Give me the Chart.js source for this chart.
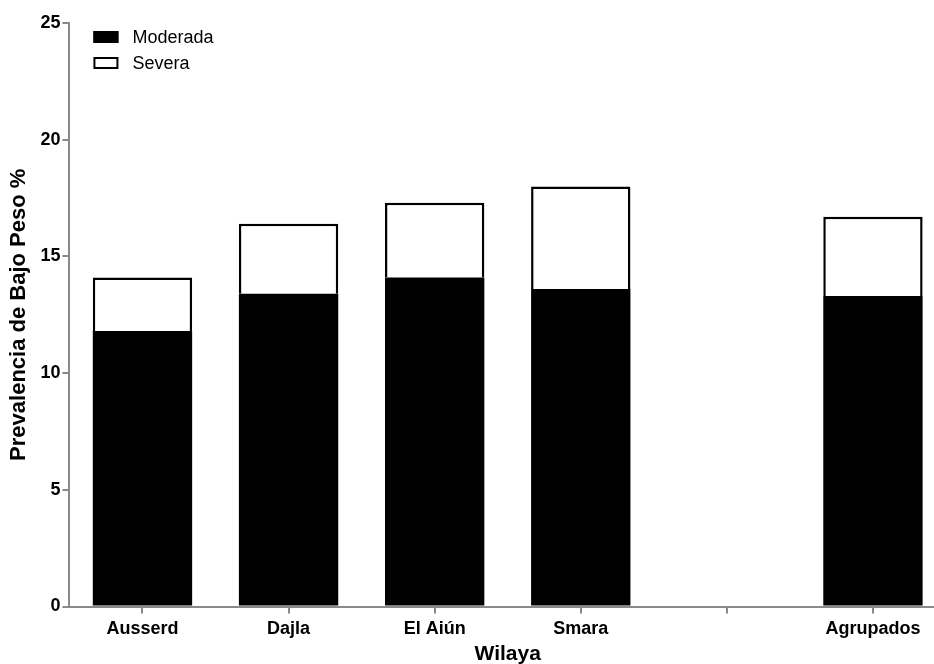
<!DOCTYPE html>
<html>
<head>
<meta charset="utf-8">
<script src="https://cdn.jsdelivr.net/npm/chart.js@4.4.0/dist/chart.umd.min.js"></script>
<style>
  html, body { margin: 0; padding: 0; background: #fff; overflow: hidden; }
  #wrap { width: 946px; height: 664px; }
</style>
</head>
<body>
<div id="wrap"><canvas id="my_chart"></canvas></div>
<script>
// wilayas (la categoria vacia deja el hueco antes de Agrupados)
var wilayas  = ['Ausserd', 'Dajla', 'El Aiún', 'Smara', '', 'Agrupados'];
// prevalencia en %
var moderada = [11.8, 13.4, 14.1, 13.6, null, 13.3];
var severa   = [2.3, 3.0, 3.2, 4.4, null, 3.4];
var y_ticks  = [0, 5, 10, 15, 20, 25];

var AXIS_GREY = '#8a8a8a';
var FONT = '"Liberation Sans", Arial, sans-serif';

// leyenda dentro del area del grafico, arriba a la izquierda
var inner_legend = {
  id: 'inner_legend',
  afterDraw: function(chart) {
    var ctx = chart.ctx;
    var x = chart.chartArea.left + 24;
    var y = chart.chartArea.top + 8;
    ctx.save();
    ctx.font = '18px ' + FONT;
    ctx.textBaseline = 'middle';
    chart.data.datasets.forEach(function(ds, i) {
      var yy = y + i * 26;
      ctx.fillStyle = ds.backgroundColor;
      ctx.fillRect(x, yy, 25, 12);
      ctx.lineWidth = 2;
      ctx.strokeStyle = '#000';
      ctx.strokeRect(x + 1, yy + 1, 23, 10);
      ctx.fillStyle = '#000';
      ctx.fillText(ds.label, x + 39, yy + 7);
    });
    ctx.restore();
  }
};

var config = {
  type: 'bar',
  data: {
    labels: wilayas,
    datasets: [
      {
        label: 'Moderada',
        data: moderada,
        backgroundColor: '#000000',
        borderColor: '#000000',
        borderWidth: 0
      }, {
        label: 'Severa',
        data: severa,
        backgroundColor: '#ffffff',
        borderColor: '#000000',
        borderWidth: 2.5
      }
    ]
  },
  options: {
    responsive: true,
    maintainAspectRatio: false,
    animation: false,
    layout: { padding: { top: 23, left: 6, right: 0, bottom: 0 } },
    plugins: {
      legend: { display: false },
      tooltip: { enabled: false }
    },
    datasets: {
      bar: { categoryPercentage: 1.0, barPercentage: 0.68 }
    },
    scales: {
      x: {
        stacked: true,
        grid: { display: true, offset: false, drawOnChartArea: false, color: AXIS_GREY, tickLength: 7, lineWidth: 2 },
        border: { color: AXIS_GREY, width: 2 },
        ticks: {
          color: '#000',
          font: { family: FONT, size: 18, weight: 'bold' },
          padding: 5,
          maxRotation: 0
        },
        title: {
          display: true,
          text: 'Wilaya',
          color: '#000',
          font: { family: FONT, size: 21, weight: 'bold', lineHeight: 0.9 },
          padding: { top: 0, bottom: 0 }
        }
      },
      y: {
        stacked: true,
        min: 0,
        max: 25,
        afterBuildTicks: function(axis) {
          axis.ticks = y_ticks.map(function(v) { return { value: v }; });
        },
        grid: { display: true, drawOnChartArea: false, color: AXIS_GREY, tickLength: 7, lineWidth: 2 },
        border: { color: AXIS_GREY, width: 2 },
        ticks: {
          color: '#000',
          font: { family: FONT, size: 18, weight: 'bold' },
          padding: 2
        },
        title: {
          display: true,
          text: 'Prevalencia de Bajo Peso %',
          color: '#000',
          font: { family: FONT, size: 22, weight: 'bold' },
          padding: { top: 0, bottom: 6 }
        }
      }
    }
  },
  plugins: [inner_legend]
};

var ctx = document.getElementById('my_chart').getContext('2d');
var myChart = new Chart(ctx, config);
</script>
</body>
</html>
